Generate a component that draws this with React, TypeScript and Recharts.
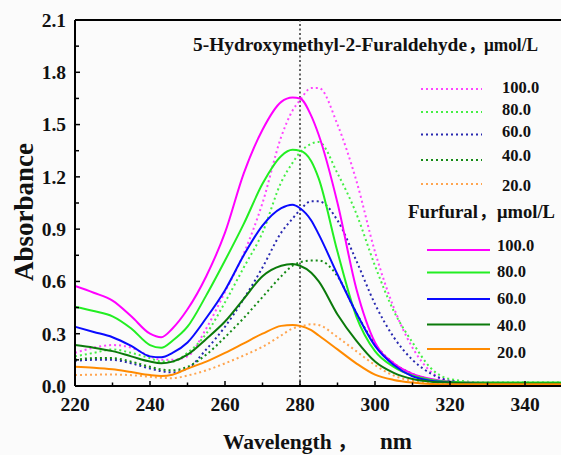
import { LineChart, Line, XAxis, YAxis, ReferenceLine } from 'recharts'

const wavelengths = [220, 225, 230, 235, 240, 243, 246, 250, 255, 260, 265, 270, 275, 278, 280, 283, 285, 290, 295, 300, 305, 310, 315, 320, 330, 340, 350]

// Furfural, solid lines
const furfural100 = [0.574, 0.535, 0.49, 0.40, 0.30, 0.28, 0.33, 0.44, 0.63, 0.88, 1.22, 1.47, 1.63, 1.655, 1.65, 1.55, 1.44, 1.05, 0.56, 0.25, 0.13, 0.07, 0.04, 0.025, 0.018, 0.017, 0.017]
const furfural80 = [0.455, 0.43, 0.40, 0.33, 0.235, 0.22, 0.26, 0.34, 0.52, 0.72, 0.93, 1.16, 1.32, 1.355, 1.35, 1.29, 1.19, 0.77, 0.40, 0.20, 0.11, 0.06, 0.035, 0.025, 0.02, 0.02, 0.02]
const furfural60 = [0.34, 0.31, 0.28, 0.23, 0.17, 0.165, 0.19, 0.25, 0.39, 0.55, 0.75, 0.92, 1.02, 1.04, 1.02, 0.95, 0.87, 0.64, 0.42, 0.23, 0.12, 0.055, 0.03, 0.02, 0.012, 0.01, 0.01]
const furfural40 = [0.235, 0.22, 0.20, 0.17, 0.14, 0.13, 0.14, 0.18, 0.27, 0.37, 0.50, 0.63, 0.69, 0.70, 0.69, 0.65, 0.60, 0.41, 0.26, 0.14, 0.075, 0.04, 0.025, 0.02, 0.015, 0.015, 0.015]
const furfural20 = [0.11, 0.105, 0.096, 0.08, 0.063, 0.058, 0.065, 0.10, 0.14, 0.19, 0.245, 0.30, 0.345, 0.35, 0.345, 0.32, 0.29, 0.21, 0.13, 0.065, 0.035, 0.02, 0.012, 0.01, 0.01, 0.01, 0.01]

// 5-Hydroxymethyl-2-Furaldehyde, dotted lines
const hmf100 = [0.19, 0.22, 0.235, 0.22, 0.17, 0.15, 0.15, 0.17, 0.33, 0.54, 0.76, 1.05, 1.43, 1.58, 1.64, 1.71, 1.71, 1.50, 1.18, 0.77, 0.45, 0.22, 0.08, 0.03, 0.02, 0.02, 0.02]
const hmf80 = [0.17, 0.19, 0.21, 0.19, 0.16, 0.14, 0.14, 0.19, 0.30, 0.48, 0.68, 0.88, 1.17, 1.28, 1.34, 1.39, 1.40, 1.22, 0.99, 0.69, 0.43, 0.25, 0.10, 0.04, 0.02, 0.02, 0.02]
const hmf60 = [0.145, 0.15, 0.15, 0.13, 0.10, 0.085, 0.078, 0.10, 0.21, 0.34, 0.50, 0.68, 0.88, 0.96, 1.01, 1.06, 1.06, 0.95, 0.72, 0.47, 0.28, 0.15, 0.07, 0.03, 0.015, 0.012, 0.012]
const hmf40 = [0.15, 0.16, 0.16, 0.14, 0.11, 0.095, 0.09, 0.11, 0.18, 0.28, 0.39, 0.51, 0.63, 0.69, 0.71, 0.72, 0.72, 0.63, 0.42, 0.24, 0.13, 0.07, 0.035, 0.02, 0.015, 0.015, 0.015]
const hmf20 = [0.063, 0.065, 0.066, 0.062, 0.053, 0.047, 0.045, 0.06, 0.09, 0.13, 0.175, 0.225, 0.29, 0.33, 0.34, 0.355, 0.35, 0.28, 0.20, 0.12, 0.06, 0.03, 0.02, 0.015, 0.01, 0.01, 0.01]

const xTicks = [220, 230, 240, 250, 260, 270, 280, 290, 300, 310, 320, 330, 340, 350]
const yTicks = [0, 0.15, 0.3, 0.45, 0.6, 0.75, 0.9, 1.05, 1.2, 1.35, 1.5, 1.65, 1.8, 1.95, 2.1]
const concentrations = ['100.0', '80.0', '60.0', '40.0', '20.0']

const solidColors = ['#ff00ff', '#22ee22', '#0a0aff', '#0b7a0b', '#ff8a00']
const dottedColors = ['#ff44ff', '#44ee44', '#2828b0', '#168a16', '#ffa550']

const data = wavelengths.map((w, i) => ({
  w,
  f100: furfural100[i], f80: furfural80[i], f60: furfural60[i], f40: furfural40[i], f20: furfural20[i],
  h100: hmf100[i], h80: hmf80[i], h60: hmf60[i], h40: hmf40[i], h20: hmf20[i],
}))

const furfuralKeys = ['f100', 'f80', 'f60', 'f40', 'f20']
const hmfKeys = ['h100', 'h80', 'h60', 'h40', 'h20']

const font = '"Liberation Serif", "Times New Roman", "Noto Sans CJK SC", serif'

const renderXTick = (props: any) => {
  const { x, y, payload } = props
  const v = payload.value
  const major = (v - 220) % 20 === 0
  return (
    <g>
      <line x1={x} x2={x} y1={y} y2={y - (major ? 5 : 3.5)} stroke="#000" strokeWidth={1.5} />
      {major && v < 350 && (
        <text x={x} y={y + 25} textAnchor="middle" fontFamily={font} fontWeight="bold" fontSize={19.5} fill="#111">
          {v}
        </text>
      )}
    </g>
  )
}

const renderYTick = (props: any) => {
  const { x, y, payload } = props
  const v = payload.value
  const major = Math.round(v * 100) % 30 === 0
  return (
    <g>
      <line x1={x + 8} x2={x + 8 + (major ? 5 : 4)} y1={y} y2={y} stroke="#000" strokeWidth={1.5} />
      {major && (
        <text x={x - 1} y={y} dy="0.35em" textAnchor="end" fontFamily={font} fontWeight="bold" fontSize={19.5} fill="#111">
          {v.toFixed(1)}
        </text>
      )}
    </g>
  )
}

function Legends() {
  const hmfLineY = [89, 112, 134.5, 160, 184]
  const hmfTextY = [93, 115, 137, 161, 191]
  const furLineY = [250, 272.5, 299, 324.5, 349]
  const furTextY = [251, 277, 304, 331, 358]
  return (
    <svg width={561} height={455} style={{ position: 'absolute', left: 0, top: 0, pointerEvents: 'none' }}>
      <g fontFamily={font} fontWeight="bold" fill="#111">
        <text x={193} y={51} fontSize={19} textLength={274} lengthAdjust="spacingAndGlyphs">5-Hydroxymethyl-2-Furaldehyde</text>
        <text x={468} y={51} fontSize={17}>，</text>
        <text x={484} y={51} fontSize={19} textLength={54} lengthAdjust="spacingAndGlyphs">μmol/L</text>
        {concentrations.map((c, i) => (
          <g key={'h' + c}>
            <line x1={421} x2={482} y1={hmfLineY[i]} y2={hmfLineY[i]} stroke={dottedColors[i]} strokeWidth={2} strokeDasharray="2 3" />
            <text x={502} y={hmfTextY[i]} fontSize={16.5}>{c}</text>
          </g>
        ))}
        <text x={408} y={218} fontSize={19} textLength={70} lengthAdjust="spacingAndGlyphs">Furfural</text>
        <text x={479} y={218} fontSize={17}>，</text>
        <text x={497} y={218} fontSize={19} textLength={58} lengthAdjust="spacingAndGlyphs">μmol/L</text>
        {concentrations.map((c, i) => (
          <g key={'f' + c}>
            <line x1={427} x2={490} y1={furLineY[i]} y2={furLineY[i]} stroke={solidColors[i]} strokeWidth={2.2} />
            <text x={497} y={furTextY[i]} fontSize={16.5}>{c}</text>
          </g>
        ))}
        <text x={33} y={212} fontSize={27} textAnchor="middle" transform="rotate(-90 33 212)">Absorbance</text>
        <text x={223} y={449} fontSize={21.5}>Wavelength</text>
        <text x={337} y={449} fontSize={20}>，</text>
        <text x={380} y={449} fontSize={23}>nm</text>
      </g>
    </svg>
  )
}

export default function App() {
  return (
    <div style={{ position: 'absolute', left: 0, top: 0, width: 561, height: 455, overflow: 'hidden', background: '#fbfbfb' }}>
      <LineChart width={566} height={455} data={data} margin={{ top: 20, right: 3.5, bottom: 0, left: 0 }}>
        <XAxis
          dataKey="w"
          type="number"
          domain={[220, 350]}
          ticks={xTicks}
          interval={0}
          height={69}
          tickSize={0}
          tickMargin={0}
          tick={renderXTick}
          axisLine={{ stroke: '#000', strokeWidth: 2 }}
          allowDataOverflow
        />
        <YAxis
          type="number"
          domain={[0, 2.1]}
          ticks={yTicks}
          interval={0}
          width={75}
          tickSize={0}
          tickMargin={8}
          tick={renderYTick}
          axisLine={{ stroke: '#000', strokeWidth: 2 }}
          allowDataOverflow
        />
        <ReferenceLine y={2.1} stroke="#000" strokeWidth={2} />
        <ReferenceLine x={280} stroke="#333" strokeWidth={1.5} strokeDasharray="2 2.5" />
        {hmfKeys.map((k, i) => (
          <Line key={k} dataKey={k} type="monotone" stroke={dottedColors[i]} strokeWidth={2} strokeDasharray="2 3" dot={false} isAnimationActive={false} />
        ))}
        {furfuralKeys.map((k, i) => (
          <Line key={k} dataKey={k} type="monotone" stroke={solidColors[i]} strokeWidth={2} dot={false} isAnimationActive={false} />
        ))}
      </LineChart>
      <Legends />
    </div>
  )
}
